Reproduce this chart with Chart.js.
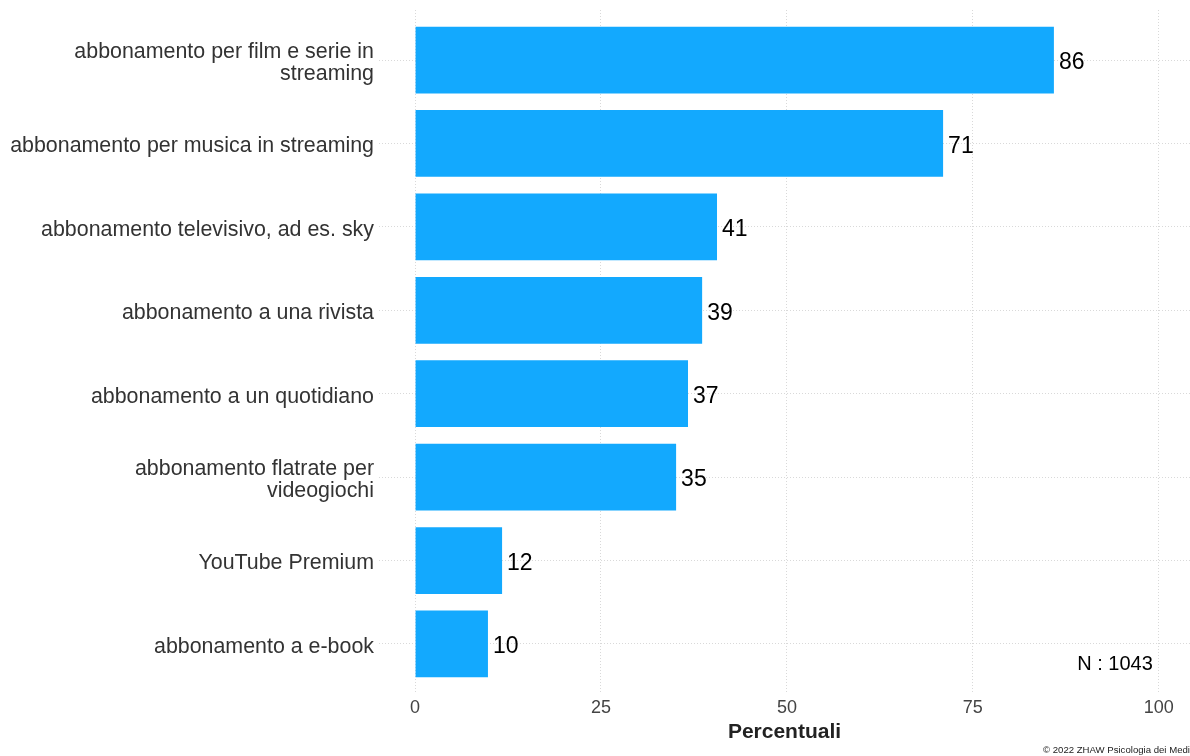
<!DOCTYPE html>
<html>
<head>
<meta charset="utf-8">
<script src="https://cdn.jsdelivr.net/npm/chart.js@4.4.0/dist/chart.umd.min.js"></script>
<style>
  html, body { margin: 0; padding: 0; background: #fff; }
  #wrap { width: 1190px; height: 756px; position: relative; }
</style>
</head>
<body>
<div id="wrap"><canvas id="chart"></canvas></div>
<script>
/* ================= DATA ================= */
const categories = [
  ["abbonamento per film e serie in", "streaming"],
  "abbonamento per musica in streaming",
  "abbonamento televisivo, ad es. sky",
  "abbonamento a una rivista",
  "abbonamento a un quotidiano",
  ["abbonamento flatrate per", "videogiochi"],
  "YouTube Premium",
  "abbonamento a e-book",
];
const values = [85.9, 71.0, 40.6, 38.6, 36.7, 35.1, 11.7, 9.8];
const xTicks = [0, 25, 50, 75, 100];
const xTitle = "Percentuali";
const sampleNote = "N : 1043";
const credit = "© 2022 ZHAW Psicologia dei Media";

/* ================= STYLE ================= */
const BAR_COLOR = "#13a9fe";
const GRID_COLOR = "#d9d9d9";
const FONT = "'Liberation Sans', Arial, sans-serif";

/* ================= PLUGINS ================= */
const valueLabels = {
  id: "valueLabels",
  afterDatasetsDraw(chart) {
    const ctx = chart.ctx;
    const meta = chart.getDatasetMeta(0);
    ctx.save();
    ctx.font = "23px " + FONT;
    ctx.fillStyle = "#000";
    ctx.textAlign = "left";
    ctx.textBaseline = "middle";
    meta.data.forEach((bar, i) => {
      ctx.fillText(String(Math.round(values[i])), bar.x + 5, bar.y + 3);
    });
    ctx.restore();
  },
};

const notes = {
  id: "notes",
  afterDraw(chart) {
    const ctx = chart.ctx;
    const xs = chart.scales.x;
    const ys = chart.scales.y;
    ctx.save();
    ctx.fillStyle = "#000";
    ctx.font = "20px " + FONT;
    ctx.textAlign = "right";
    ctx.textBaseline = "middle";
    ctx.fillText(sampleNote, xs.getPixelForValue(100) - 6, ys.getPixelForValue(7.25));
    ctx.font = "9.6px " + FONT;
    ctx.textAlign = "left";
    ctx.fillStyle = "#222";
    ctx.fillText(credit, 1043, 750);
    ctx.restore();
  },
};

/* ================= CHART ================= */
new Chart(document.getElementById("chart"), {
  type: "bar",
  data: {
    datasets: [
      {
        data: values.map((v, i) => ({ x: v, y: i })),
        backgroundColor: BAR_COLOR,
        borderWidth: 0,
        categoryPercentage: 1,
        barPercentage: 0.8,
      },
    ],
  },
  options: {
    indexAxis: "y",
    responsive: true,
    maintainAspectRatio: false,
    animation: false,
    layout: { padding: { top: 10, left: 0, right: 0, bottom: 13 } },
    plugins: {
      legend: { display: false },
      tooltip: { enabled: false },
    },
    scales: {
      x: {
        type: "linear",
        min: -4.85,
        max: 104.2,
        afterBuildTicks: (scale) => {
          scale.ticks = xTicks.map((v) => ({ value: v }));
        },
        border: { display: false, dash: [1, 2] },
        grid: {
          color: GRID_COLOR,
          lineWidth: 1,
          drawTicks: false,
        },
        ticks: {
          color: "#444",
          font: { family: FONT, size: 18, lineHeight: 1 },
          padding: 5,
        },
        title: {
          display: true,
          text: xTitle,
          color: "#222",
          font: { family: FONT, size: 21, weight: "bold", lineHeight: 1 },
          padding: { top: 0, bottom: 0 },
        },
      },
      y: {
        type: "linear",
        reverse: true,
        offset: false,
        min: -0.6,
        max: 7.6,
        afterBuildTicks: (scale) => {
          scale.ticks = categories.map((c, i) => ({ value: i }));
        },
        afterFit: (scale) => {
          scale.width = 379;
          scale.paddingTop = 0;
          scale.paddingBottom = 0;
        },
        border: { display: false, dash: [1, 2] },
        grid: {
          offset: false,
          color: GRID_COLOR,
          lineWidth: 1,
          drawTicks: false,
        },
        ticks: {
          color: "#333",
          font: { family: FONT, size: 21.4, lineHeight: 1.0 },
          padding: 5,
          labelOffset: 3,
          callback: (v) => categories[v],
        },
      },
    },
  },
  plugins: [valueLabels, notes],
});
</script>
</body>
</html>
